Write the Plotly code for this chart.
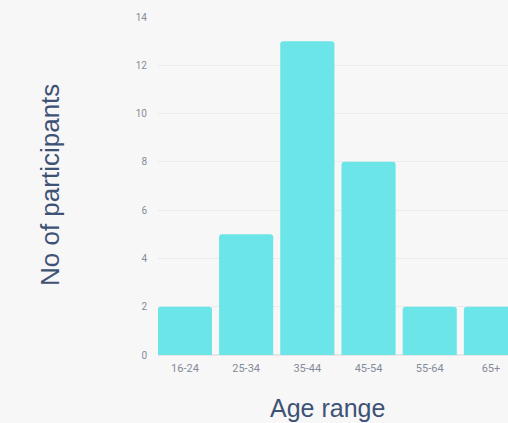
import plotly.graph_objects as go

categories = ["16-24", "25-34", "35-44", "45-54", "55-64", "65+"]
participants = [2, 5, 13, 8, 2, 2]
y_ticks = [0, 2, 4, 6, 8, 10, 12, 14]

W, H = 508, 423
left, right, top, bottom = 158, 0, 17, 68
plot_w = W - left - right

fig = go.Figure(go.Bar(
    x=categories, y=participants,
    marker=dict(color="#6ce5e8", line=dict(width=0), cornerradius=3),
    width=0.885,
))

fig.update_layout(
    width=W, height=H,
    margin=dict(l=left, r=right, t=top, b=bottom, pad=0),
    paper_bgcolor="#f8f7f7",
    plot_bgcolor="rgba(0,0,0,0)",
    showlegend=False,
    font=dict(family="Roboto", color="#838b9c", size=10),
)
fig.update_xaxes(
    range=[-0.44, -0.44 + plot_w / 61.2],
    showgrid=False, zeroline=False, showline=False,
    ticks="", ticklabelstandoff=5,
    tickfont=dict(size=11, color="#838b9c"),
)
fig.update_yaxes(
    range=[0, 14], tickvals=y_ticks,
    showgrid=True, gridcolor="#ebebeb", gridwidth=1,
    zeroline=True, zerolinecolor="#e6e6e6", showline=False,
    ticks="", ticklabelstandoff=10,
    tickfont=dict(size=10, color="#838b9c"),
)

fig.add_annotation(
    text="Age range", xref="paper", yref="paper",
    x=(327 - left) / plot_w, y=-(408 - (H - bottom)) / (H - top - bottom),
    showarrow=False, xanchor="center", yanchor="middle",
    font=dict(family="Liberation Sans", size=25, color="#3d5275"),
)
fig.add_annotation(
    text="No of participants", xref="paper", yref="paper",
    x=(50 - left) / plot_w, y=((H - bottom) - 185) / (H - top - bottom),
    showarrow=False, xanchor="center", yanchor="middle", textangle=-90,
    font=dict(family="Liberation Sans", size=26, color="#3d5275"),
)

fig.write_html("out.html")
